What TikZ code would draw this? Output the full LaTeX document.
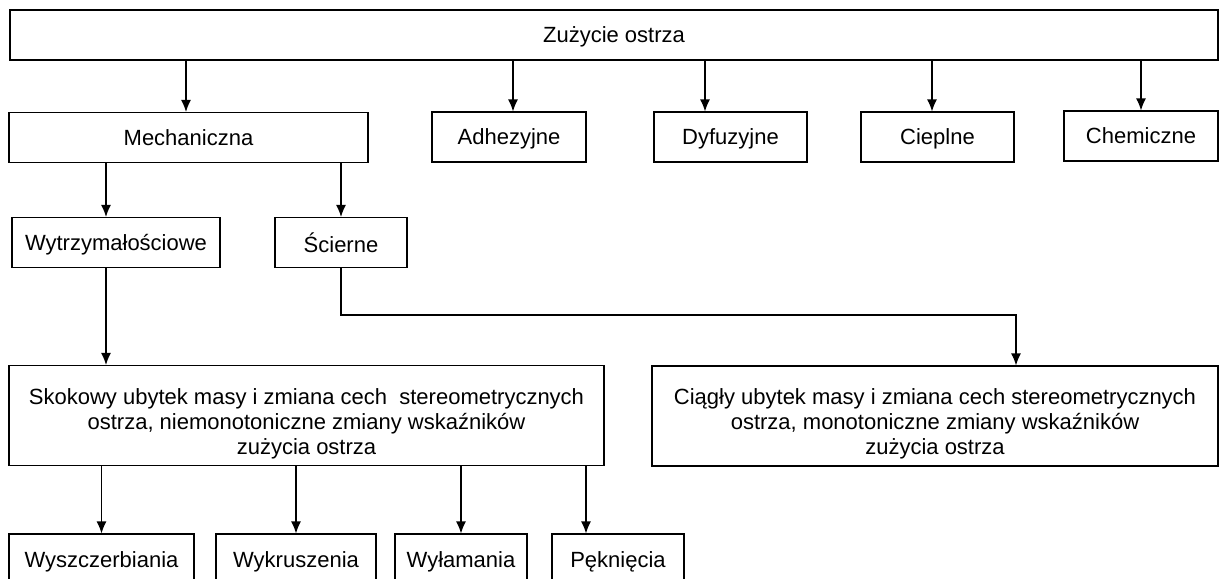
\documentclass[tikz,border=0pt]{standalone}
\usepackage{fontspec}
\setmainfont{Liberation Sans}
\usepackage{tikz}
\usetikzlibrary{arrows.meta}

\begin{document}
\begin{tikzpicture}[x=0.5pt,y=-0.5pt,line width=0.6pt,
        >={Latex[length=6pt,width=5pt]},
        blok/.style={draw, inner sep=0pt, align=center, minimum height=25pt,
                text depth=0pt, font=\fontsize{11}{12.5}\selectfont},
        duzy/.style={blok, text depth={}, minimum height=50pt}]
        \useasboundingbox (0,0) rectangle (1219,578);
        % Draw the boxes
        \node[blok, minimum width=604pt] (top) at (614,35) {Zużycie ostrza};
        \node[blok, minimum width=179.5pt] (mech) at (188.5,137.5) {Mechaniczna};
        \node[blok, minimum width=77pt] (adh) at (509,137) {Adhezyjne};
        \node[blok, minimum width=76.5pt] (dyf) at (730.5,137) {Dyfuzyjne};
        \node[blok, minimum width=76.5pt] (ciep) at (937.5,137) {Cieplne};
        \node[blok, minimum width=77pt] (chem) at (1141,136) {Chemiczne};
        \node[blok, minimum width=104pt] (wytrz) at (116,242.5) {Wytrzymałościowe};
        \node[blok, minimum width=66pt] (scier) at (341,242.5) {Ścierne};
        \node[duzy, minimum width=297.5pt] (skok) at (306.5,415.5)
                {\rule{0pt}{16pt}Skokowy ubytek masy i zmiana cech~ stereometrycznych\\ ostrza, niemonotoniczne zmiany wskaźników\\ zużycia ostrza};
        \node[duzy, minimum width=283pt] (ciag) at (935,416)
                {\rule{0pt}{16pt}Ciągły ubytek masy i zmiana cech stereometrycznych\\ ostrza, monotoniczne zmiany wskaźników\\ zużycia ostrza};
        \node[blok, minimum width=92.5pt, minimum height=26pt] (wysz) at (101.5,560) {Wyszczerbiania};
        \node[blok, minimum width=80pt, minimum height=26pt] (wykr) at (296,560) {Wykruszenia};
        \node[blok, minimum width=66pt, minimum height=26pt] (wyla) at (461,560) {Wyłamania};
        \node[blok, minimum width=66pt, minimum height=26pt] (pekn) at (618,560) {Pęknięcia};
        % Draw arrows
        \draw[->] ([xshift=-1.25pt]mech.north |- top.south) -- ([xshift=-1.25pt]mech.north);
        \draw[->] ([xshift=2pt]adh.north |- top.south) -- ([xshift=2pt]adh.north);
        \draw[->] ([xshift=-12.75pt]dyf.north |- top.south) -- ([xshift=-12.75pt]dyf.north);
        \draw[->] ([xshift=-2.75pt]ciep.north |- top.south) -- ([xshift=-2.75pt]ciep.north);
        \draw[->] (chem.north |- top.south) -- (chem.north);
        \draw[->] ([xshift=-5pt]wytrz.north |- mech.south) -- ([xshift=-5pt]wytrz.north);
        \draw[->] (scier.north |- mech.south) -- (scier.north);
        \draw[->] ([xshift=-5pt]wytrz.south) -- ([xshift=-5pt]wytrz.south |- skok.north);
        \coordinate (zag) at (1016,315);
        \draw[->] (scier.south) |- (zag) -- (zag |- ciag.north);
        \foreach \n in {wysz,wykr,wyla}
                \draw[->] (skok.south -| \n.north) -- (\n.north);
        \draw[->] ([xshift=-16pt]pekn.north |- skok.south) -- ([xshift=-16pt]pekn.north);
\end{tikzpicture}
\end{document}
